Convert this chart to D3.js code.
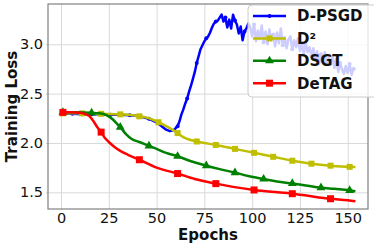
<!DOCTYPE html>
<html>
<head>
<meta charset="utf-8">
<script src="https://cdn.jsdelivr.net/npm/d3@7"></script>
<style>
  body { margin: 0; background: #fff; }
  text { font-family: "DejaVu Sans", sans-serif; }
</style>
</head>
<body>
<div id="chart"></div>
<script>
// data
let dpsgdEpochs = [1, 6, 11, 16, 21, 26, 31, 36, 41, 46, 50, 53, 55, 57, 59, 60, 61, 62, 63, 64, 65, 66, 67, 68, 69, 70,
    71, 72, 73, 74, 75, 76, 77, 78, 79, 80, 81, 82, 83, 84, 85, 86, 87, 88, 89, 90, 91, 92, 93, 94, 95, 96, 97, 98,
    99, 100, 101, 102, 103, 104, 105, 106, 107, 108, 109, 110, 111, 112, 113, 114, 115, 116, 117, 118, 119, 120,
    121, 122, 123, 124, 125, 126, 127, 128, 129, 130, 131, 132, 133, 134, 135, 136, 137, 138, 139, 140,
    141, 142, 143, 144, 145, 146, 147, 148, 149, 150, 151, 152, 153, 154];
let dpsgdLoss = [2.30, 2.295, 2.29, 2.29, 2.29, 2.285, 2.285, 2.28, 2.27, 2.245, 2.21, 2.165, 2.135, 2.12, 2.13, 2.15, 2.17, 2.22, 2.29, 2.34, 2.40, 2.45, 2.52, 2.58, 2.65, 2.72,
    2.81, 2.88, 2.95, 2.99, 3.03, 3.06, 3.08, 3.12, 3.17, 3.21, 3.23, 3.24, 3.27, 3.30, 3.23, 3.27, 3.17, 3.25, 3.16, 3.30, 3.24, 3.20, 3.11, 3.18, 3.04, 3.13, 3.16, 3.21,
    3.17, 3.08, 3.20, 3.03, 3.14, 3.05, 3.19, 3.02, 3.13, 3.00, 3.15, 3.04, 3.10, 2.98, 3.12, 3.01, 3.16, 2.99, 3.07, 2.96, 3.05, 3.08,
    2.95, 3.04, 2.97, 3.06, 2.93, 3.00, 2.90, 3.02, 2.92, 2.97, 2.88, 2.96, 2.84, 2.93, 2.80, 2.90, 2.83, 2.92, 2.79, 2.86,
    2.82, 2.88, 2.76, 2.85, 2.72, 2.81, 2.75, 2.70, 2.78, 2.71, 2.80, 2.69, 2.76, 2.74];

let d2Epochs = [1, 11, 21, 31, 41, 46, 51, 56, 61, 64, 67, 71, 81, 91, 101, 111, 121, 131, 141, 151, 154];
let d2Loss = [2.30, 2.30, 2.295, 2.29, 2.27, 2.25, 2.21, 2.16, 2.10, 2.06, 2.035, 2.015, 1.98, 1.94, 1.90, 1.86, 1.82, 1.79, 1.77, 1.758, 1.757];

let dsgtEpochs = [1, 8, 16, 20, 24, 27, 29, 31, 34, 37, 41, 46, 50, 55, 61, 68, 76, 83, 91, 98, 106, 113, 121, 128, 136, 143, 151, 154];
let dsgtLoss = [2.31, 2.31, 2.305, 2.30, 2.28, 2.24, 2.20, 2.16, 2.09, 2.04, 2.01, 1.97, 1.94, 1.90, 1.865, 1.815, 1.77, 1.735, 1.70, 1.665, 1.635, 1.61, 1.59, 1.57, 1.547, 1.535, 1.52, 1.51];

let detagEpochs = [1, 5, 10, 13, 15, 17, 19, 21, 23, 25, 28, 31, 35, 41, 50, 61, 70, 81, 90, 101, 110, 121, 130, 141, 150, 154];
let detagLoss = [2.31, 2.31, 2.305, 2.29, 2.27, 2.22, 2.16, 2.11, 2.05, 2.01, 1.96, 1.92, 1.88, 1.83, 1.75, 1.69, 1.635, 1.588, 1.555, 1.524, 1.505, 1.486, 1.462, 1.435, 1.42, 1.41];

let xTicks = [0, 25, 50, 75, 100, 125, 150];
let yTicks = [1.5, 2.0, 2.5, 3.0];

let series = [
    { name: "D-PSGD", epochs: dpsgdEpochs, loss: dpsgdLoss, color: "#0000ff", marker: "dot", every: 5, curve: d3.curveLinear },
    { name: "D²", epochs: d2Epochs, loss: d2Loss, color: "#bfbf00", marker: "square", every: 10, curve: d3.curveMonotoneX },
    { name: "DSGT", epochs: dsgtEpochs, loss: dsgtLoss, color: "#008000", marker: "triangle", every: 15, curve: d3.curveMonotoneX },
    { name: "DeTAG", epochs: detagEpochs, loss: detagLoss, color: "#ff0000", marker: "bigsquare", every: 20, curve: d3.curveMonotoneX }
];

// svg wrapper
let svgwidth = 374;
let svgheight = 249;
let margin = { top: 4, right: 6, bottom: 40, left: 48 };
let width = svgwidth - margin.left - margin.right;
let height = svgheight - margin.top - margin.bottom;

let svg = d3.select("#chart")
    .append("svg")
    .attr("width", svgwidth)
    .attr("height", svgheight);

let chartgroup = svg.append("g")
    .attr("transform", `translate(${margin.left}, ${margin.top})`);

let xScale = d3.scaleLinear().domain([-6.8, 160.6]).range([0, width]);
let yScale = d3.scaleLinear().domain([1.331, 3.408]).range([height, 0]);

// grid
chartgroup.append("g")
    .attr("transform", `translate(0, ${height})`)
    .call(d3.axisBottom(xScale).tickValues(xTicks).tickSize(-height).tickFormat(""))
    .call(g => g.select(".domain").remove())
    .call(g => g.selectAll("line").attr("stroke", "#d9d9d9").attr("stroke-width", 1));

chartgroup.append("g")
    .call(d3.axisLeft(yScale).tickValues(yTicks).tickSize(-width).tickFormat(""))
    .call(g => g.select(".domain").remove())
    .call(g => g.selectAll("line").attr("stroke", "#d9d9d9").attr("stroke-width", 1));

// tick labels
let xAxis = chartgroup.append("g")
    .attr("transform", `translate(0, ${height})`)
    .call(d3.axisBottom(xScale).tickValues(xTicks).tickSize(0).tickPadding(4).tickFormat(d3.format("d")));
xAxis.select(".domain").remove();
xAxis.selectAll("text").attr("font-size", "14.5px").attr("fill", "#111").attr("font-family", "DejaVu Sans");

let yAxis = chartgroup.append("g")
    .call(d3.axisLeft(yScale).tickValues(yTicks).tickSize(2).tickPadding(3).tickFormat(d3.format(".1f")));
yAxis.select(".domain").remove();
yAxis.selectAll("line").attr("stroke", "#cfcfcf");
yAxis.selectAll("text").attr("font-size", "14.5px").attr("fill", "#111").attr("font-family", "DejaVu Sans");

// lines + markers
function drawMarker(g, type, color) {
    if (type === "dot") {
        g.append("circle").attr("r", 2).attr("fill", color);
    } else if (type === "square") {
        g.append("rect").attr("x", -3).attr("y", -3).attr("width", 6).attr("height", 6).attr("fill", color);
    } else if (type === "bigsquare") {
        g.append("rect").attr("x", -3.5).attr("y", -3.5).attr("width", 7).attr("height", 7).attr("fill", color);
    } else {
        g.append("path").attr("d", d3.symbol().type(d3.symbolTriangle).size(34)()).attr("fill", color);
    }
}

svg.append("clipPath").attr("id", "plotclip")
    .append("rect").attr("width", width).attr("height", height);

series.forEach(function(s) {
    let pts = s.epochs.map((e, i) => ({ epoch: e, loss: s.loss[i] }));
    let line = d3.line()
        .x(d => xScale(d.epoch))
        .y(d => yScale(d.loss))
        .curve(s.curve);

    let g = chartgroup.append("g").attr("clip-path", "url(#plotclip)");
    g.append("path")
        .datum(pts)
        .attr("d", line)
        .attr("fill", "none")
        .attr("stroke", s.color)
        .attr("stroke-width", 2.5)
        .attr("stroke-linejoin", "round");

    pts.filter(d => (d.epoch - 1) % s.every === 0).forEach(function(d) {
        let m = g.append("g").attr("transform", `translate(${xScale(d.epoch)}, ${yScale(d.loss)})`);
        drawMarker(m, s.marker, s.color);
    });
});

// frame
chartgroup.append("rect")
    .attr("width", width)
    .attr("height", height)
    .attr("fill", "none")
    .attr("stroke", "#808080")
    .attr("stroke-width", 1.2);

// legend
let legend = svg.append("g").attr("transform", "translate(248, 5)");
legend.append("rect")
    .attr("width", 140)
    .attr("height", 92)
    .attr("rx", 4)
    .attr("fill", "#fff")
    .attr("fill-opacity", 0.8)
    .attr("stroke", "#cccccc")
    .attr("stroke-width", 1);

series.forEach(function(s, i) {
    let row = legend.append("g").attr("transform", `translate(0, ${11 + i * 22.4})`);
    row.append("line")
        .attr("x1", 5).attr("x2", 38)
        .attr("stroke", s.color)
        .attr("stroke-width", 2.5);
    let m = row.append("g").attr("transform", "translate(21.5, 0)");
    drawMarker(m, s.marker, s.color);
    row.append("text")
        .attr("x", 49)
        .attr("dy", "0.36em")
        .attr("font-size", "15px")
        .attr("font-weight", "bold")
        .attr("fill", "#111")
        .text(s.name);
});

// axis titles
svg.append("text")
    .attr("x", margin.left + width / 2)
    .attr("y", 240)
    .attr("text-anchor", "middle")
    .attr("font-size", "15px")
    .attr("font-weight", "bold")
    .attr("fill", "#111")
    .text("Epochs");

svg.append("text")
    .attr("transform", `translate(17, ${margin.top + height / 2}) rotate(-90)`)
    .attr("text-anchor", "middle")
    .attr("font-size", "15px")
    .attr("font-weight", "bold")
    .attr("fill", "#111")
    .text("Training Loss");
</script>
</body>
</html>
